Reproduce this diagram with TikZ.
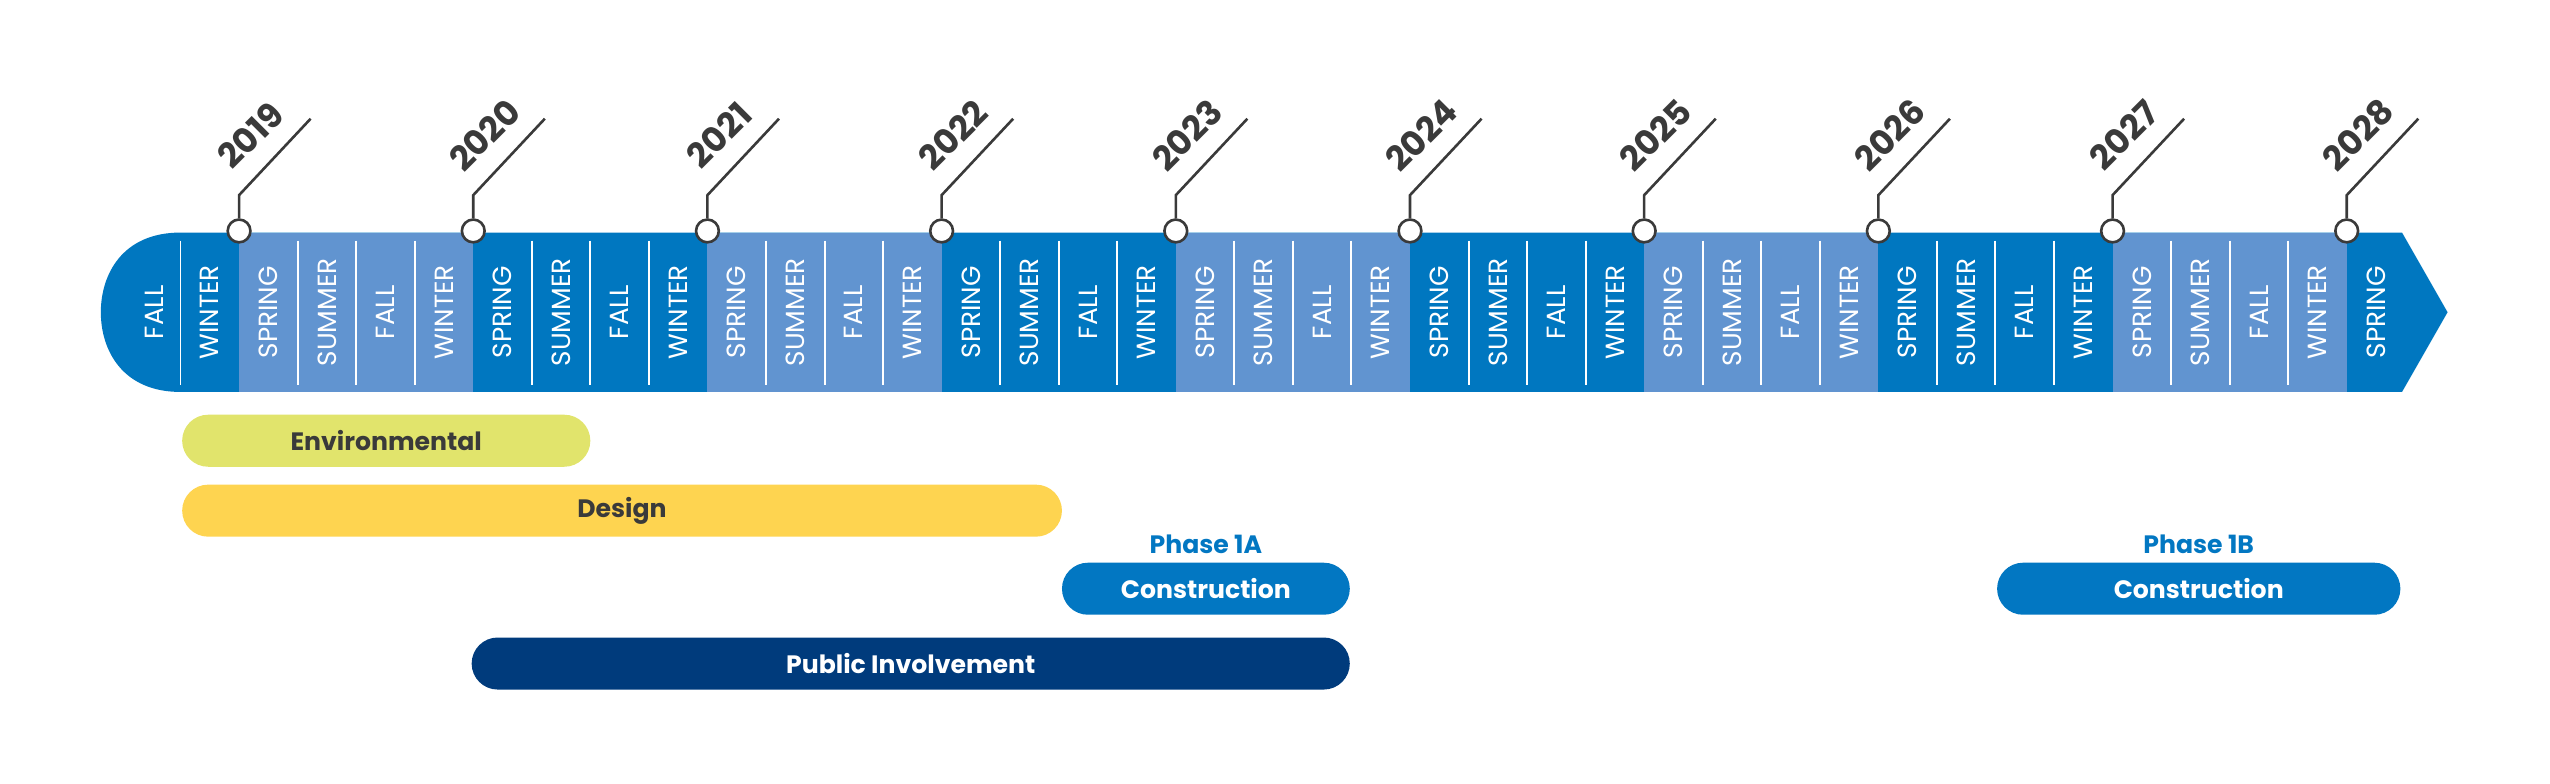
\documentclass[tikz,border=0pt]{standalone}
\usepackage{fontspec}
\setmainfont{Poppins}
\usetikzlibrary{positioning}
\definecolor{darkband}{HTML}{0077C0}
\definecolor{lightband}{HTML}{6194D0}
\definecolor{envgreen}{HTML}{E1E46C}
\definecolor{designyellow}{HTML}{FED450}
\definecolor{buildblue}{HTML}{0277C2}
\definecolor{publicnavy}{HTML}{003B7C}
\definecolor{inkgrey}{HTML}{3A3A3A}
\tikzset{
  season/.style={rotate=90, text=white, font=\fontsize{23}{23}\selectfont},
  yearlabel/.style={rotate=45, text=inkgrey, font=\fontsize{30}{30}\selectfont\bfseries},
  bar/.style={fill=#1, rounded corners=8mm, minimum height=16mm, inner sep=0pt,
    font=\fontsize{22}{22}\selectfont\bfseries},
  phase/.style={text=buildblue, font=\fontsize{22}{22}\selectfont\bfseries}
}
\begin{document}
\begin{tikzpicture}[x=0.05cm, y=-0.05cm]
\useasboundingbox (0,0) rectangle (1568,482);

% the band
\fill[darkband] (111,241) .. controls (75,241) and (62,215) .. (62,192)
  .. controls (62,169) and (75,143) .. (111,143) -- (1477,143) -- (1505,192)
  -- (1477,241) -- cycle;
\foreach \k in {0,2,4,6,8}
  \fill[lightband] (147+144*\k,143) rectangle (291+144*\k,241);

% dividers
\draw[white, line width=0.6mm] (111,148) -- (111,237);
\foreach \j in {1,...,35}{
  \pgfmathtruncatemacro{\r}{mod(\j,4)}
  \ifnum\r>0
    \draw[white, line width=0.6mm] (147+36*\j,148) -- (147+36*\j,237);
  \fi
}

% seasons
\node[season] (s0) at (95,192) {FALL};
\node[season] (s1) at (129,192) {WINTER};
\foreach \j in {0,...,36}{
  \pgfmathtruncatemacro{\r}{mod(\j,4)}
  \ifcase\r \def\sname{SPRING}\or \def\sname{SUMMER}\or \def\sname{FALL}\or \def\sname{WINTER}\fi
  \node[season] (c\j) at (165+36*\j,192) {\sname};
}

% year markers
\foreach \y [count=\k from 0] in {2019,...,2028}{
  \coordinate (bend\y) at (147+144*\k,120);
  \coordinate (tip\y) at (191+144*\k,73);
  \node[circle, draw=inkgrey, fill=white, line width=0.8mm, minimum size=7mm,
    inner sep=0pt] (m\y) at (147+144*\k,142) {};
  \draw[inkgrey, line width=0.8mm] (m\y) -- (bend\y) -- (tip\y);
  \node[yearlabel] (y\y) at (154+144*\k,83) {\y};
}

% bars
\node[bar=envgreen, text=inkgrey, minimum width=125.5mm] (env) at (237.5,271) {Environmental};
\node[bar=designyellow, text=inkgrey, minimum width=270.5mm] (design) at (382.5,314) {Design};
\node[bar=buildblue, text=white, minimum width=88.5mm] (build1a) at (741.5,362) {Construction};
\node[bar=buildblue, text=white, minimum width=124mm] (build1b) at (1352,362) {Construction};
\node[bar=publicnavy, text=white, minimum width=270mm] (public) at (560,408) {Public Involvement};
\node[phase, above=1.5mm of build1a] (phase1a) {Phase 1A};
\node[phase, above=1.5mm of build1b] (phase1b) {Phase 1B};
\end{tikzpicture}
\end{document}
